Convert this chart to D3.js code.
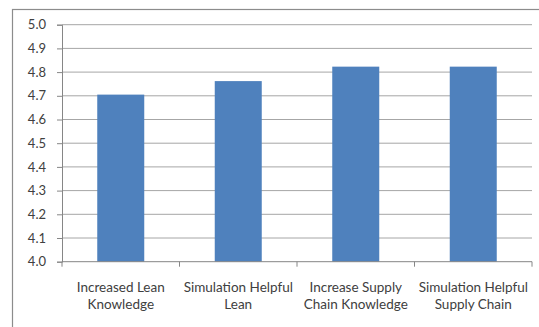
<!DOCTYPE html>
<html>
<head>
<meta charset="utf-8">
<script src="https://cdn.jsdelivr.net/npm/d3@7"></script>
<style>
  html, body { margin: 0; padding: 0; background: #fff; }
  svg { display: block; }
  text { font-family: Lato, "Open Sans", sans-serif; fill: #404040; }
</style>
</head>
<body>
<svg id="chart" width="539" height="327"></svg>
<script>
// Survey means per statement
const categories = [
  ["Increased Lean", "Knowledge"],
  ["Simulation Helpful", "Lean"],
  ["Increase Supply", "Chain Knowledge"],
  ["Simulation Helpful", "Supply Chain"]
];
const values = [4.705, 4.762, 4.823, 4.823];
const yTicks = [4.0, 4.1, 4.2, 4.3, 4.4, 4.5, 4.6, 4.7, 4.8, 4.9, 5.0];

const svg = d3.select("#chart");
const plot = { left: 62, right: 532, top: 24.7, bottom: 261.7 };

// outer chart frame
svg.append("rect")
  .attr("x", 12.5).attr("y", 9.5)
  .attr("width", 600).attr("height", 400)
  .attr("fill", "#fff")
  .attr("stroke", "#8c8c8c").attr("stroke-width", 1.2);

const x = d3.scaleBand()
  .domain(d3.range(categories.length))
  .range([plot.left, plot.right])
  .paddingInner(0.6).paddingOuter(0.3);

const y = d3.scaleLinear().domain([4.0, 5.0]).range([plot.bottom, plot.top]);

// horizontal gridlines
svg.append("g")
  .selectAll("line")
  .data(yTicks.slice(1))
  .join("line")
  .attr("x1", plot.left).attr("x2", plot.right)
  .attr("y1", d => y(d)).attr("y2", d => y(d))
  .attr("stroke", "#a6a6a6").attr("stroke-width", 1);

// bars
svg.append("g")
  .selectAll("rect")
  .data(values)
  .join("rect")
  .attr("x", (d, i) => x(i))
  .attr("width", x.bandwidth())
  .attr("y", d => y(d))
  .attr("height", d => y(4.0) - y(d))
  .attr("fill", "#4f81bd");

// y axis
const yAxis = d3.axisLeft(y).tickValues(yTicks).tickFormat(d3.format(".1f")).tickSize(5).tickPadding(11);
const gy = svg.append("g").attr("transform", `translate(${plot.left},0)`).call(yAxis);
gy.select(".domain").attr("stroke", "#868686");
gy.selectAll(".tick line").attr("stroke", "#868686");
gy.selectAll(".tick text").attr("font-size", 13).attr("fill", "#404040")
  .style("font-family", "Lato, sans-serif");

// x axis baseline with category separators
const gx = svg.append("g");
gx.append("line")
  .attr("x1", plot.left).attr("x2", plot.right)
  .attr("y1", plot.bottom).attr("y2", plot.bottom)
  .attr("stroke", "#868686");
const bounds = d3.range(categories.length + 1).map(i => plot.left + i * x.step());
gx.selectAll("line.sep")
  .data(bounds)
  .join("line")
  .attr("class", "sep")
  .attr("x1", d => d).attr("x2", d => d)
  .attr("y1", plot.bottom).attr("y2", plot.bottom + 5)
  .attr("stroke", "#868686");

// category labels
const labels = gx.selectAll("text.cat")
  .data(categories)
  .join("text")
  .attr("class", "cat")
  .attr("text-anchor", "middle")
  .attr("font-size", 13.5)
  .attr("transform", (d, i) => `translate(${x(i) + x.bandwidth() / 2},${plot.bottom + 30})`);
labels.selectAll("tspan")
  .data(d => d)
  .join("tspan")
  .attr("x", 0)
  .attr("dy", (d, j) => j === 0 ? 0 : 17.5)
  .text(d => d);
</script>
</body>
</html>
